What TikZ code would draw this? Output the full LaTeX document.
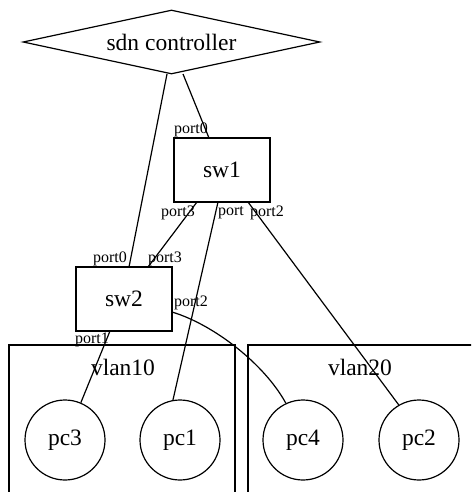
\documentclass[tikz,border=0pt]{standalone}
\usepackage{fontspec}
\setmainfont{Liberation Serif}
\usetikzlibrary{shapes.geometric}
\begin{document}
\begin{tikzpicture}[x=1pt,y=-1pt,
  line width=1.2pt,
  every node/.style={inner sep=0pt},
  bigtext/.style={font=\fontsize{23.5}{26}\selectfont},
  porttext/.style={font=\fontsize{16}{18}\selectfont},
  ctrlshape/.style={draw,diamond,aspect=4.64,minimum width=297pt,minimum height=64pt,bigtext},
  switchbox/.style={draw,rectangle,minimum width=96pt,minimum height=64pt,bigtext},
  pcnode/.style={draw,circle,minimum size=80pt,bigtext},
  cluster/.style={draw}]
\useasboundingbox (0,0) rectangle (471,492);
\clip (0,0) rectangle (471,492);
% clusters
\draw[cluster] (9,345) rectangle (235,500);
\draw[cluster] (248,345) rectangle (480,500);
\node[bigtext] (v10) at (123,367) {vlan10};
\node[bigtext] (v20) at (360,367) {vlan20};
% nodes
\node[ctrlshape] (ctrl) at (171.5,42) {sdn controller};
\node[switchbox] (sw1) at (222,170) {sw1};
\node[switchbox] (sw2) at (124,299) {sw2};
\node[pcnode] (pc3) at (65,440) {pc3};
\node[pcnode] (pc1) at (180,440) {pc1};
\node[pcnode] (pc4) at (303,440) {pc4};
\node[pcnode] (pc2) at (419,440) {pc2};
% port points
\coordinate (c1) at (167,74);
\coordinate (c2) at (183,74);
\coordinate (s1p0) at (209,138);
\coordinate (s1p3) at (197,202);
\coordinate (s1p) at (218,202);
\coordinate (s1p2) at (248,202);
\coordinate (s2p0) at (129,267);
\coordinate (s2p3) at (148,267);
\coordinate (s2p2) at (172,312);
\coordinate (s2p1) at (110,331);
% edges
\draw (c2) -- (s1p0);
\draw (c1) -- (s2p0);
\draw (s1p3) -- (s2p3);
\draw (s1p) -- (pc1.100);
\draw (s1p2) -- (pc2.120);
\draw (s2p1) -- (pc3.67);
\draw (s2p2) .. controls (215,325) and (265,365) .. (pc4.115);
% port labels
\node[porttext] (l1) at (191,130) {port0};
\node[porttext] (l2) at (178,213) {port3};
\node[porttext] (l3) at (231,213) {port};
\node[porttext] (l4) at (267,213) {port2};
\node[porttext] (l5) at (110,259) {port0};
\node[porttext] (l6) at (165,259) {port3};
\node[porttext] (l7) at (191,303) {port2};
\node[porttext] (l8) at (92,340) {port1};
\end{tikzpicture}
\end{document}
